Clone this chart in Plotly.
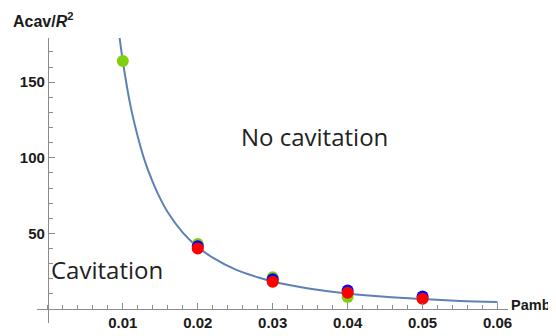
import plotly.graph_objects as go

# Fitted curve, values
curve_p = [0.0094, 0.0100, 0.0110, 0.0120, 0.0130, 0.0140, 0.0150, 0.0160, 0.0180,
           0.0200, 0.0220, 0.0250, 0.0280, 0.0300, 0.0350, 0.0400, 0.0450, 0.0500,
           0.0550, 0.0600]
curve_a = [186, 164, 135, 114, 97, 84, 73, 64, 50.6,
           41, 34, 26.2, 21, 18.2, 13.4, 10.3, 8.1, 6.6,
           5.4, 4.6]

# Data points
green_p = [0.01, 0.02, 0.03, 0.04, 0.05]
green_a = [164, 43, 21, 8, 7]
blue_p = [0.02, 0.03, 0.04, 0.05]
blue_a = [41.5, 19.8, 12.3, 8.4]
red_p = [0.02, 0.03, 0.04, 0.05]
red_a = [40, 18, 10.8, 6.8]

x_ticks = [0.01, 0.02, 0.03, 0.04, 0.05, 0.06]
x_tick_text = ["0.01", "0.02", "0.03", "0.04", "0.05", "0.06"]
y_ticks = [50, 100, 150]
y_tick_text = ["50", "100", "150"]

xmin, xmax = -0.00145, 0.0614
ymin, ymax = -9.2, 179.2

fig = go.Figure()
fig.add_trace(go.Scatter(x=curve_p, y=curve_a, mode="lines", line=dict(color="#5E81B5", width=2, shape="spline"),
                         hoverinfo="skip"))
fig.add_trace(go.Scatter(x=green_p, y=green_a, mode="markers", marker=dict(color="#80D010", size=12)))
fig.add_trace(go.Scatter(x=blue_p, y=blue_a, mode="markers", marker=dict(color="#0000FF", size=12)))
fig.add_trace(go.Scatter(x=red_p, y=red_a, mode="markers", marker=dict(color="#FF0000", size=12)))

tickfont = dict(family="Liberation Sans", size=15, color="#1a1a1a")
axcol = "#8c8c8c"

# the page body has an 8px margin, so the figure is 8px smaller than the window
fig.update_layout(
    width=548, height=328,
    margin=dict(l=29, r=48, t=30, b=13, autoexpand=False),
    paper_bgcolor="white", plot_bgcolor="white",
    showlegend=False,
    xaxis=dict(range=[xmin, xmax], anchor="free", position=(0 - ymin) / (ymax - ymin), automargin=False,
               showgrid=False, zeroline=False, showline=True, linecolor=axcol, linewidth=1,
               tickvals=x_ticks, ticktext=["<b>%s</b>" % t for t in x_tick_text],
               ticks="inside", ticklen=6, tickcolor=axcol, tickfont=tickfont,
               minor=dict(dtick=0.002, tick0=0, ticks="inside", ticklen=4, tickcolor=axcol)),
    yaxis=dict(range=[ymin, ymax], anchor="free", position=(0 - xmin) / (xmax - xmin), automargin=False,
               showgrid=False, zeroline=False, showline=True, linecolor=axcol, linewidth=1,
               tickvals=y_ticks, ticktext=["<b>%s</b>" % t for t in y_tick_text],
               ticks="inside", ticklen=6, tickcolor=axcol, tickfont=tickfont,
               minor=dict(dtick=10, tick0=0, ticks="inside", ticklen=4, tickcolor=axcol)),
)

fig.add_annotation(text="<b>Acav/<i>R</i><sup>2</sup></b>", xref="paper", yref="paper",
                   x=-0.056, y=1.0, xanchor="left", yanchor="bottom", yshift=6, showarrow=False,
                   font=dict(family="Liberation Sans", size=16, color="#1a1a1a"))
fig.add_annotation(text="<b>Pamb</b>", xref="paper", yref="y", x=1.0, y=0, xanchor="left",
                   yanchor="middle", xshift=2, yshift=4, showarrow=False, borderpad=0,
                   font=dict(family="Liberation Sans", size=14.5, color="#1a1a1a"))
fig.add_annotation(text="No cavitation", x=0.0356, y=114.3, showarrow=False,
                   font=dict(family="Open Sans", size=24, color="#222222"))
fig.add_annotation(text="Cavitation", x=0.0079, y=26.3, showarrow=False,
                   font=dict(family="Open Sans", size=24, color="#222222"))

fig.write_html("out.html")
